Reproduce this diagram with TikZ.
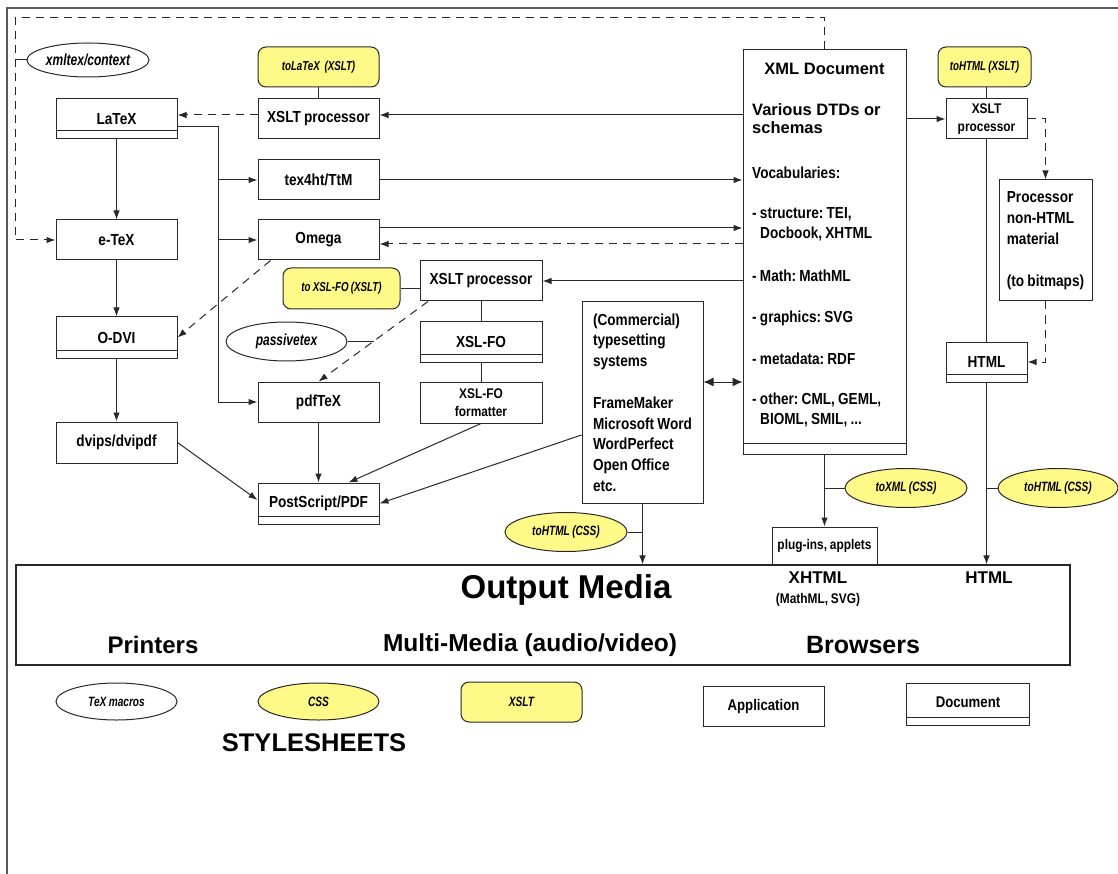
\documentclass[tikz,border=0pt]{standalone}
\usepackage{fontspec}
\setmainfont{Liberation Sans}
\newfontfamily\nf{Liberation Sans}[FakeStretch=0.85,WordSpace=0.85]
\newfontfamily\yf{Liberation Sans}[FakeStretch=0.75,WordSpace=0.85]
\newcommand\fsz[2]{\fontsize{#1}{#2}\selectfont}
\usetikzlibrary{arrows.meta,shapes.geometric}
\definecolor{yel}{RGB}{255,249,135}
\definecolor{ln}{RGB}{40,40,40}
\AtBeginDocument{\frenchspacing}
\begin{document}
\begin{tikzpicture}[x=1pt,y=-1pt,
  box/.style={draw=ln,line width=1pt,minimum width=121pt,minimum height=40pt,inner sep=0pt,align=center,font=\nf\bfseries\fsz{16}{19}},
  doc/.style={box,path picture={\draw[draw=ln,line width=1pt] ([yshift=#1]path picture bounding box.south west) -- ([yshift=#1]path picture bounding box.south east);}},
  doc/.default=8pt,
  yel/.style={draw=ln,line width=1pt,fill=yel,rounded corners=8pt,minimum width=121pt,minimum height=40pt,inner sep=0pt,font=\yf\bfseries\itshape\fsz{13}{15}},
  ell/.style={ellipse,draw=ln,line width=1pt,minimum width=121pt,minimum height=38pt,inner sep=0pt,font=\yf\bfseries\itshape\fsz{16}{19}},
  yell/.style={ell,fill=yel,font=\yf\bfseries\itshape\fsz{13.5}{16}},
  txt/.style={inner sep=0pt,align=left,font=\nf\bfseries\fsz{16}{20}},
  conn/.style={draw=ln,line width=1pt},
  arr/.style={conn,-{Latex[length=9pt,width=6.5pt]}},
  dsh/.style={dash pattern=on 8pt off 6pt},
  dbl/.style={conn,{Latex[length=10pt,width=9pt]}-{Latex[length=10pt,width=9pt]}}
]
\useasboundingbox (0,0) rectangle (1118,874);
% outer frame
\draw[draw=black!65,line width=1.3pt] (7,874) -- (7,8) -- (1118,8);

% left column
\node[doc] (latex) at (116.5,119) {LaTeX};
\node[box] (etex) at (116.5,240) {e-TeX};
\node[doc,minimum height=41pt] (odvi) at (116.5,337.5) {O-DVI};
\node[box,minimum height=41pt] (dvips) at (116.5,442.5) {dvips/dvipdf};
\node[ell,minimum width=122pt,minimum height=34pt] (xmltex) at (88,60) {xmltex/context};

% second column
\node[yel] (tolatex) at (318.5,67) {toLaTeX\ \ (XSLT)};
\node[box] (xslt1) at (318.5,119) {XSLT processor};
\node[box] (tex4ht) at (318.5,180) {tex4ht/TtM};
\node[box] (omega) at (318.5,240) {Omega};
\node[box] (pdftex) at (318.5,402) {pdfTeX};
\node[doc,minimum height=41pt] (ps) at (318.5,503.5) {PostScript/PDF};
\node[yel,minimum width=117pt,minimum height=41pt] (toxslfo) at (341.5,288.5) {to XSL-FO (XSLT)};
\node[ell,minimum height=39pt] (passivetex) at (286.5,341.5) {passivetex};

% third column
\node[box,minimum width=122pt] (xslt2) at (481,281) {XSLT processor};
\node[doc,minimum width=122pt,minimum height=41pt] (xslfo) at (481,341.5) {XSL-FO};
\node[box,minimum width=122pt,minimum height=41pt,font=\nf\bfseries\fsz{14}{18}] (xslfofmt) at (481,402.5) {XSL-FO\\formatter};

% commercial
\node[box,minimum width=121pt,minimum height=201pt,align=left,font=\nf\bfseries\fsz{16}{20.8}] (comm) at (642.5,402.5)
  {(Commercial)\\typesetting\\systems\\[20.8pt]FrameMaker\\Microsoft Word\\WordPerfect\\Open Office\\etc.};

% XML document
\node[doc=11pt,minimum width=163pt,minimum height=404pt] (xml) at (824.5,252) {};
\node[inner sep=0pt,font=\bfseries\fsz{16.5}{18}] (xmlt) at (824.5,69) {XML Document};
\node[inner sep=0pt,align=left,anchor=west,font=\bfseries\fsz{16.5}{18}] (dtd) at (752,119) {Various DTDs or\\schemas};
\node[txt,anchor=west] (voc) at (752,173) {Vocabularies:};
\node[txt,anchor=west] (v1) at (752,224) {- structure: TEI,\\\hspace*{8pt}Docbook, XHTML};
\node[txt,anchor=west] (v2) at (752,276) {- Math: MathML};
\node[txt,anchor=west] (v3) at (752,318) {- graphics: SVG};
\node[txt,anchor=west] (v4) at (752,359) {- metadata: RDF};
\node[txt,anchor=west] (v5) at (752,410) {- other: CML, GEML,\\\hspace*{8pt}BIOML, SMIL, ...};

% right column
\node[yel,minimum width=93pt] (tohtmlx) at (984.5,67) {toHTML (XSLT)};
\node[box,minimum width=81pt,font=\nf\bfseries\fsz{14}{18}] (xslt3) at (986.5,119) {XSLT\\processor};
\node[box,minimum width=93pt,minimum height=121pt,align=left,font=\nf\bfseries\fsz{16}{21}] (proc) at (1045.5,240.5)
  {Processor\\non-HTML\\material\\[21pt](to bitmaps)};
\node[doc,minimum width=81pt] (html) at (986.5,362) {HTML};

% lower ellipses
\node[yell,minimum width=122pt,minimum height=39pt] (tohtmlcss1) at (566,532) {toHTML (CSS)};
\node[yell,minimum width=122pt,minimum height=39pt] (toxmlcss) at (906,488) {toXML (CSS)};
\node[yell,minimum width=120pt,minimum height=39pt] (tohtmlcss2) at (1058,488) {toHTML (CSS)};
\node[box,minimum width=105pt,minimum height=38pt,font=\nf\bfseries\fsz{14}{17}] (plugins) at (824.5,546) {plug-ins, applets};

% output media
\node[draw=ln,line width=1.1pt,minimum width=1054pt,minimum height=100pt,inner sep=0pt] (output) at (543,615) {};
\node[inner sep=0pt,font=\bfseries\fsz{33}{38}] (om) at (566,590) {Output Media};
\node[inner sep=0pt,font=\bfseries\fsz{24}{28}] (printers) at (153,645) {Printers};
\node[inner sep=0pt,font=\bfseries\fsz{24.5}{28}] (mm) at (530,645) {Multi-Media (audio/video)};
\node[inner sep=0pt,font=\bfseries\fsz{25}{28}] (browsers) at (863,645) {Browsers};
\node[inner sep=0pt,font=\bfseries\fsz{17}{20}] (xhtml) at (818,578) {XHTML};
\node[inner sep=0pt,font=\nf\bfseries\fsz{14}{17}] (mathsvg) at (818,600) {(MathML, SVG)};
\node[inner sep=0pt,font=\bfseries\fsz{17}{20}] (htmlout) at (989,578) {HTML};

% legend
\node[ell,minimum height=37pt,font=\yf\bfseries\itshape\fsz{13.5}{16}] (texmac) at (116.5,701.5) {TeX macros};
\node[yell,minimum width=121pt,minimum height=37pt] (css) at (318.5,701.5) {CSS};
\node[yel,font=\yf\bfseries\itshape\fsz{13.5}{16}] (xsltleg) at (521.5,702) {XSLT};
\node[box,font=\nf\bfseries\fsz{15.5}{18}] (app) at (763.5,706) {Application};
\node[doc,minimum width=123pt,minimum height=42pt,font=\nf\bfseries\fsz{15.5}{18}] (docleg) at (968,704) {\raisebox{4pt}{Document}};
\node[inner sep=0pt,font=\bfseries\fsz{25.5}{30}] (sty) at (314,743) {STYLESHEETS};

% ---- connectors ----
\coordinate (d1) at (824.5,18);
\coordinate (d2) at (15,18);
\draw[arr,dsh] (xml.north) -- (d1) -- (d2) -- (d2 |- etex.west) -- (etex.west);
\draw[conn] (xmltex.west) -- (xmltex.west -| d2);

\draw[conn] (tolatex.south) -- (xslt1.north);
\draw[arr,dsh] ([yshift=4pt]xslt1.west) -- ([yshift=4pt]xslt1.west -| latex.east);
\draw[arr] ([yshift=4pt]xslt1.east -| xml.west) -- ([yshift=4pt]xslt1.east);

\coordinate (b1) at (218,127);
\coordinate (b2) at (218,402);
\draw[arr] ([yshift=-8pt]latex.east) -- (b1) -- (b2) -- (pdftex.west);
\draw[arr] (b1 |- tex4ht.west) -- (tex4ht.west);
\draw[arr] (b1 |- omega.west) -- (omega.west);

\draw[arr] (latex.south) -- (etex.north);
\draw[arr] (etex.south) -- (odvi.north);
\draw[arr] (odvi.south) -- (dvips.north);

\draw[arr] (tex4ht.east) -- (tex4ht.east -| xml.west);
\draw[arr] ([yshift=12pt]omega.east) -- ([yshift=12pt]omega.east -| xml.west);
\draw[arr,dsh] ([yshift=-4pt]omega.east -| xml.west) -- ([yshift=-4pt]omega.east);
\draw[arr] (xslt2.east -| xml.west) -- (xslt2.east);

\draw[arr,dsh] ([xshift=-48pt]omega.south) -- (odvi.east);
\draw[arr,dsh] ([xshift=-53pt]xslt2.south) -- (pdftex.north);
\coordinate (pv) at (374,341.5);
\draw[conn] (passivetex.east) -- (pv);
\draw[conn] (toxslfo.east) -- (toxslfo.east -| xslt2.west);

\draw[conn] (xslt2.south) -- (xslfo.north);
\draw[conn] (xslfo.south) -- (xslfofmt.north);
\draw[arr] (xslfofmt.south) -- ([xshift=30pt]ps.north);
\draw[arr] ([yshift=-32.5pt]comm.west) -- (ps.east);
\draw[arr] (dvips.east) -- ([yshift=3.5pt]ps.west);
\draw[arr] (pdftex.south) -- (ps.north);

\draw[dbl] ([yshift=20.5pt]comm.east) -- ([yshift=20.5pt]comm.east -| xml.west);

\draw[arr] (comm.south) -- (comm.south |- output.north);
\draw[conn] (tohtmlcss1.east) -- (tohtmlcss1.east -| comm.south);
\draw[arr] (xml.south) -- (plugins.north);
\draw[conn] (toxmlcss.west) -- (toxmlcss.west -| xml.south);

\draw[conn] (xslt3.north) -- (xslt3.north |- tohtmlx.south);
\draw[arr] (xslt3.west -| xml.east) -- (xslt3.west);
\draw[arr,dsh] (xslt3.east) -- (proc.north |- xslt3.east) -- (proc.north);
\draw[arr,dsh] (proc.south) -- (proc.south |- html.east) -- (html.east);
\draw[conn] (xslt3.south) -- (html.north);
\draw[arr] (html.south) -- (html.south |- output.north);
\draw[conn] (tohtmlcss2.west) -- (tohtmlcss2.west -| html.south);
\end{tikzpicture}
\end{document}
